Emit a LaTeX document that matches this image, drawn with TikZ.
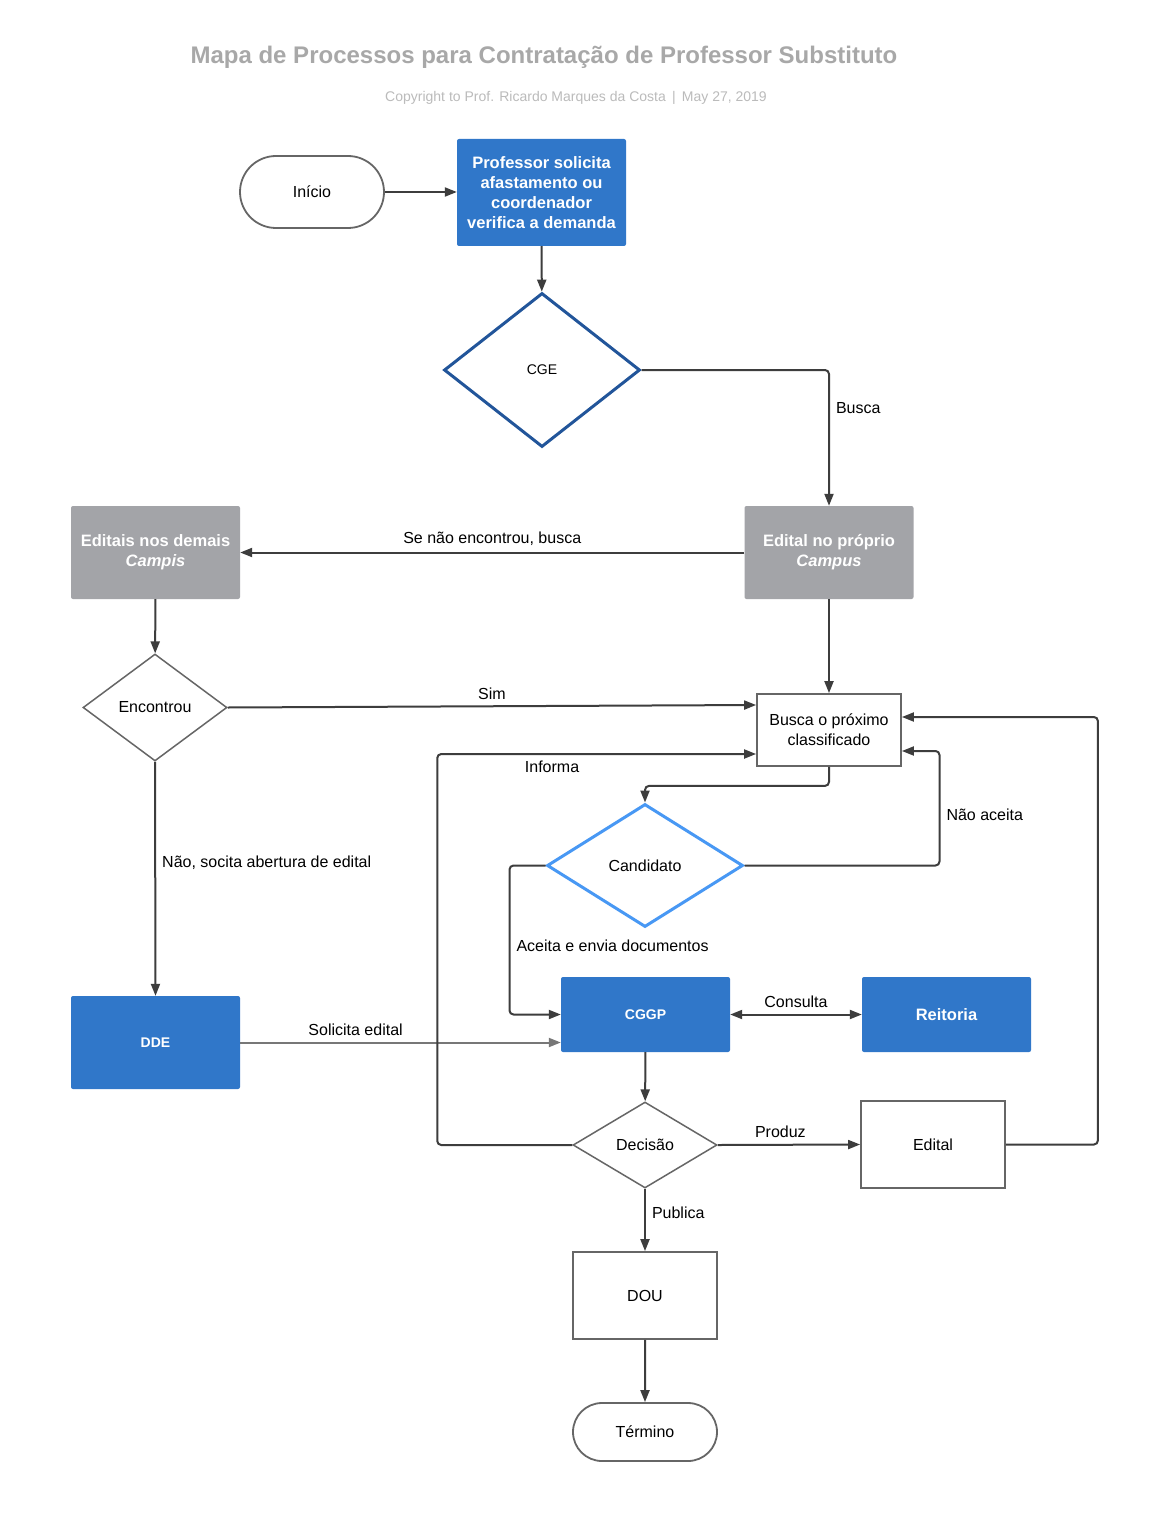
\documentclass[tikz,border=0pt]{standalone}
\usepackage{fontspec}
\setmainfont{Liberation Sans}
\usetikzlibrary{arrows.meta,shapes.geometric,shapes.misc}
\definecolor{lucidblue}{HTML}{3077C9}
\definecolor{lucidgrey}{HTML}{A3A4A8}
\definecolor{cgeblue}{HTML}{22559A}
\definecolor{candblue}{HTML}{4898F4}
\definecolor{titlegrey}{HTML}{A8A8A8}
\definecolor{subgrey}{HTML}{BBBBBB}
\definecolor{edgegrey}{HTML}{3D3D3D}
\definecolor{bordergrey}{HTML}{666666}
\definecolor{softgrey}{HTML}{777777}
\tikzset{
  txt/.style={font=\fontsize{16}{20}\selectfont},
  terminal/.style={rounded rectangle, draw=bordergrey, line width=1.8pt, txt, inner sep=0, minimum width=144},
  plainbox/.style={rectangle, draw=bordergrey, line width=1.8pt, txt, align=center, inner sep=0, minimum width=144},
  decision/.style={diamond, draw=bordergrey, line width=1.5pt, txt, inner sep=0},
  bluebox/.style={rectangle, rounded corners=2pt, fill=lucidblue, text=white, align=center, inner sep=0, minimum width=169,
    font=\bfseries\fontsize{16.5}{20}\selectfont},
  greybox/.style={bluebox, fill=lucidgrey, minimum height=93},
  arr/.style={draw=edgegrey, line width=2pt, rounded corners=4pt, -{Triangle[length=12pt,width=9pt]}},
  lbl/.style={txt, inner sep=6pt, text=black},
}
\begin{document}
\begin{tikzpicture}[x=1pt, y=-1pt]
  \fill[white] (0,0) rectangle (1169,1530);
  \useasboundingbox (0,0) rectangle (1169,1530);

  \node[font=\bfseries\fontsize{24}{28}\selectfont, text=titlegrey] (title) at (544,57) {Mapa de Processos para Contratação de Professor Substituto};
  \node[font=\fontsize{14}{17}\selectfont, text=subgrey] (subtitle) at (576,98) {Copyright to Prof. Ricardo Marques da Costa \,|\, May 27, 2019};

  \node[terminal, minimum height=72] (inicio) at (312,192) {Início};
  \node[bluebox, minimum height=107] (prof) at (541.5,192.5) {Professor solicita\\afastamento ou\\coordenador\\verifica a demanda};
  \node[decision, draw=cgeblue, line width=3pt, minimum width=196, minimum height=154, font=\fontsize{14}{17}\selectfont] (cge) at (542,370) {CGE};
  \node[greybox] (proprio) at (829,552.5) {Edital no próprio\\\textit{Campus}};
  \node[greybox] (demais) at (155.5,552.5) {Editais nos demais\\\textit{Campis}};
  \node[decision, minimum width=144, minimum height=107] (encontrou) at (155,707.5) {Encontrou};
  \node[plainbox, minimum height=72] (busca) at (829,730) {Busca o próximo\\classificado};
  \node[decision, draw=candblue, line width=3pt, minimum width=196, minimum height=123] (cand) at (645,865.5) {Candidato};
  \node[bluebox, minimum height=75, font=\bfseries\fontsize{14}{17}\selectfont] (cggp) at (645.5,1014.5) {CGGP};
  \node[bluebox, minimum height=75] (reitoria) at (946.5,1014.5) {Reitoria};
  \node[bluebox, minimum height=93, font=\bfseries\fontsize{14}{17}\selectfont] (dde) at (155.5,1042.5) {DDE};
  \node[decision, minimum width=144, minimum height=86] (decisao) at (645,1145) {Decisão};
  \node[plainbox, minimum height=87] (edital) at (933,1144.5) {Edital};
  \node[plainbox, minimum height=87] (dou) at (645,1295.5) {DOU};
  \node[terminal, minimum height=58] (termino) at (645,1432) {Término};

  \draw[arr] (inicio.east) -- (inicio.east -| prof.west);
  \draw[arr] (prof) -- (cge);
  \draw[arr] (cge.east) -| node[lbl, pos=0.64, right] {Busca} (proprio.north);
  \draw[arr] (proprio.west) -- node[lbl, above] {Se não encontrou, busca} (demais.east);
  \draw[arr] (demais) -- (encontrou);
  \draw[arr] (encontrou.east) -- node[lbl, above] {Sim} ([yshift=25pt]busca.west);
  \draw[arr] (proprio) -- (busca);
  \draw[arr] (busca.south) -- ++(0,19) -| (cand.north);
  \draw[arr] (cand.east) -- ++(195,0) |- node[lbl, pos=0.22, right] {Não aceita} ([yshift=-21pt]busca.east);
  \draw[arr] (cand.west) -- ++(-36,0) |- node[lbl, pos=0.27, right] {Aceita e envia documentos} (cggp.west);
  \draw[arr, {Triangle[length=12pt,width=9pt]}-{Triangle[length=12pt,width=9pt]}] (cggp.east) -- node[lbl, above] {Consulta} (reitoria.west);
  \draw[arr, draw=softgrey] (dde.east) -- node[lbl, pos=0.36, above] {Solicita edital} ([yshift=-28pt]cggp.west);
  \draw[arr] (encontrou.south) -- node[lbl, pos=0.43, right] {Não, socita abertura de edital} (dde.north);
  \draw[arr] (cggp) -- (decisao);
  \draw[arr] (decisao.east) -- node[lbl, pos=0.44, above] {Produz} (edital.west);
  \draw[arr] (decisao.south) -- node[lbl, pos=0.38, right] {Publica} (dou.north);
  \draw[arr] (dou) -- (termino);
  \draw[arr] (edital.east) -- ++(92,0) |- ([yshift=13pt]busca.east);
  \draw[arr] (decisao.west) -- ++(-135,0) |- node[lbl, pos=0.68, below] {Informa} ([yshift=-24pt]busca.west);
\end{tikzpicture}
\end{document}
